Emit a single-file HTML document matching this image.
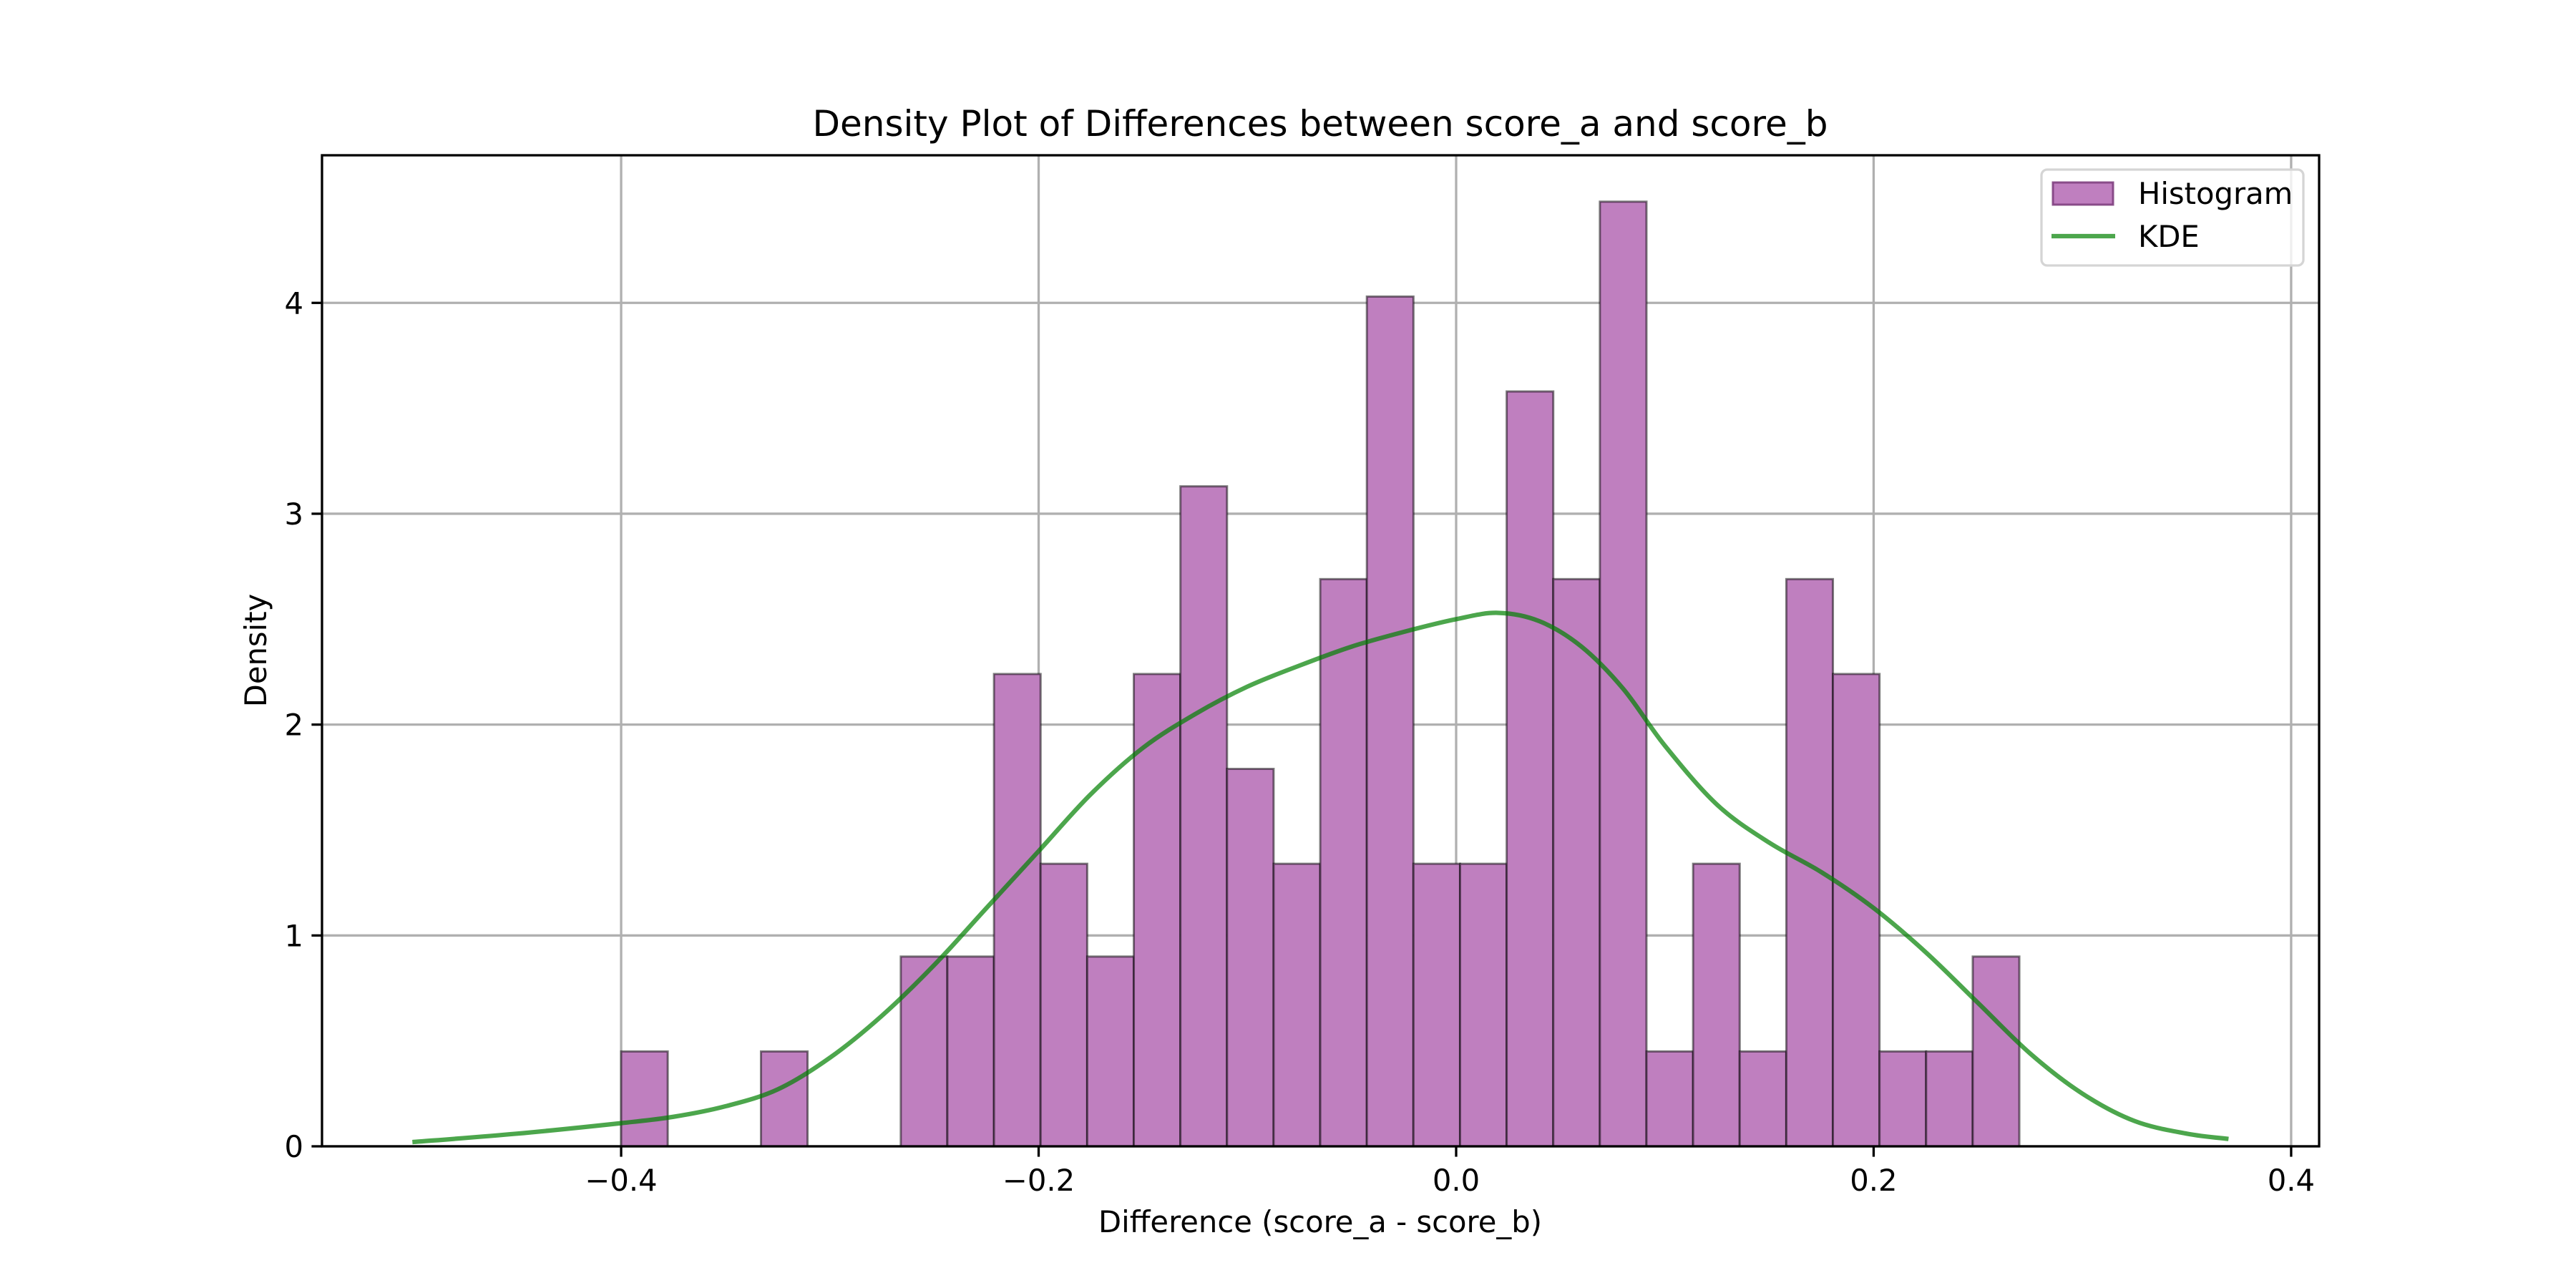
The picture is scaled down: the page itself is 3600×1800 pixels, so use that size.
<!DOCTYPE html>
<html><head><meta charset="utf-8"><style>
html,body{margin:0;padding:0;background:#fff}
svg{display:block;font-family:"DejaVu Sans","Liberation Sans",sans-serif}
</style></head><body>
<svg id="chart" width="3600" height="1800" viewBox="0 0 3600 1800" xmlns="http://www.w3.org/2000/svg">
<rect width="3600" height="1800" fill="#fff"/>
<g id="grid"></g>
<g id="bars"></g>
<g id="kde"></g>
<g id="axes"></g>
<text x="1845" y="190" font-size="50" text-anchor="middle">Density Plot of Differences between score_a and score_b</text>
<text x="1845" y="1722" font-size="41.7" text-anchor="middle">Difference (score_a - score_b)</text>
<text transform="translate(372,909) rotate(-90)" font-size="41.7" text-anchor="middle">Density</text>
<g>
<rect x="2853" y="237" width="366" height="134" rx="8" fill="#fff" fill-opacity="0.8" stroke="#d5d5d5" stroke-width="3.3"/>
<rect x="2869" y="255" width="84" height="31" fill="#bf7fbf" stroke="#7f407f" stroke-opacity="0.9" stroke-width="3"/>
<text x="2988" y="285" font-size="41.7">Histogram</text>
<line x1="2867" y1="330" x2="2956" y2="330" stroke="#4ca64c" stroke-width="6.25"/>
<text x="2988" y="345" font-size="41.7">KDE</text>
</g>
</svg>
<script>
const binStart = -0.4;
const binEnd = 0.2698;
const histDensity = [0.45,0,0,0.45,0,0,0.9,0.9,2.24,1.34,0.9,2.24,3.13,1.79,1.34,2.69,4.03,1.34,1.34,3.58,2.69,4.48,0.45,1.34,0.45,2.69,2.24,0.45,0.45,0.9];
const kdeX = [-0.5,-0.45,-0.4,-0.375,-0.35,-0.325,-0.3,-0.275,-0.25,-0.225,-0.2,-0.175,-0.15,-0.125,-0.1,-0.075,-0.05,-0.025,0,0.02,0.04,0.06,0.08,0.1,0.125,0.15,0.175,0.2,0.225,0.25,0.275,0.3,0.325,0.35,0.37];
const kdeY = [0.02,0.06,0.11,0.14,0.19,0.27,0.42,0.62,0.86,1.13,1.4,1.67,1.89,2.05,2.18,2.28,2.37,2.44,2.5,2.53,2.49,2.37,2.17,1.9,1.62,1.44,1.3,1.13,0.92,0.68,0.44,0.25,0.12,0.06,0.035];
const xTicks = [-0.4,-0.2,0.0,0.2,0.4];
const xTickLabels = ["\u22120.4","\u22120.2","0.0","0.2","0.4"];
const yTicks = [0,1,2,3,4];
const yTickLabels = ["0","1","2","3","4"];

const L=450,R=3241,T=217,B=1602;
const X0=-0.5433,X1=0.4134,Y0=0,Y1=4.70;
const sx=v=>L+(v-X0)/(X1-X0)*(R-L);
const sy=v=>B-(v-Y0)/(Y1-Y0)*(B-T);
const NS="http://www.w3.org/2000/svg";
function mk(tag,attrs,parent){const e=document.createElementNS(NS,tag);for(const k in attrs)e.setAttribute(k,attrs[k]);parent.appendChild(e);return e;}
const grid=document.getElementById('grid'),bars=document.getElementById('bars'),kde=document.getElementById('kde'),axes=document.getElementById('axes');
xTicks.forEach((t,i)=>{
  const g=mk('line',{x1:sx(t),x2:sx(t),y1:T,y2:B,stroke:'#b0b0b0','stroke-width':3.3},grid);
  
  
  const tk=mk('line',{x1:sx(t),x2:sx(t),y1:B,y2:B+14.6,stroke:'#000','stroke-width':3.3},axes);
  
  
  const tl=mk('text',{x:sx(t),y:B+62,'font-size':41.7,'text-anchor':'middle'},axes);
  tl.textContent=xTickLabels[i];
  
  
});
yTicks.forEach((t,i)=>{
  const g=mk('line',{x1:L,x2:R,y1:sy(t),y2:sy(t),stroke:'#b0b0b0','stroke-width':3.3},grid);
  
  
  const tk=mk('line',{x1:L-14.6,x2:L,y1:sy(t),y2:sy(t),stroke:'#000','stroke-width':3.3},axes);
  
  
  const tl=mk('text',{x:L-26,y:sy(t)+15,'font-size':41.7,'text-anchor':'end'},axes);
  tl.textContent=yTickLabels[i];
  
  
});
const w=(binEnd-binStart)/histDensity.length;
histDensity.forEach((d,i)=>{
  if(d<=0)return;
  const x0=sx(binStart+i*w),x1=sx(binStart+(i+1)*w);
  const r=mk('rect',{x:x0,y:sy(d),width:x1-x0,height:sy(0)-sy(d),fill:'#bf7fbf',stroke:'#000','stroke-opacity':0.5,'stroke-width':3},bars);
  
  
});
let pts=kdeX.map((x,i)=>[sx(x),sy(kdeY[i])]);
let d='M'+pts[0][0]+','+pts[0][1];
for(let i=0;i<pts.length-1;i++){
  const p0=pts[Math.max(0,i-1)],p1=pts[i],p2=pts[i+1],p3=pts[Math.min(pts.length-1,i+2)];
  const c1=[p1[0]+(p2[0]-p0[0])/6,p1[1]+(p2[1]-p0[1])/6],c2=[p2[0]-(p3[0]-p1[0])/6,p2[1]-(p3[1]-p1[1])/6];
  d+=` C${c1[0]},${c1[1]} ${c2[0]},${c2[1]} ${p2[0]},${p2[1]}`;
}
const kp=mk('path',{d:d,fill:'none',stroke:'#008000','stroke-opacity':0.7,'stroke-width':6.25},kde);


const fr=mk('rect',{x:L,y:T,width:R-L,height:B-T,fill:'none',stroke:'#000','stroke-width':3.3},axes);


</script>
</body></html>
